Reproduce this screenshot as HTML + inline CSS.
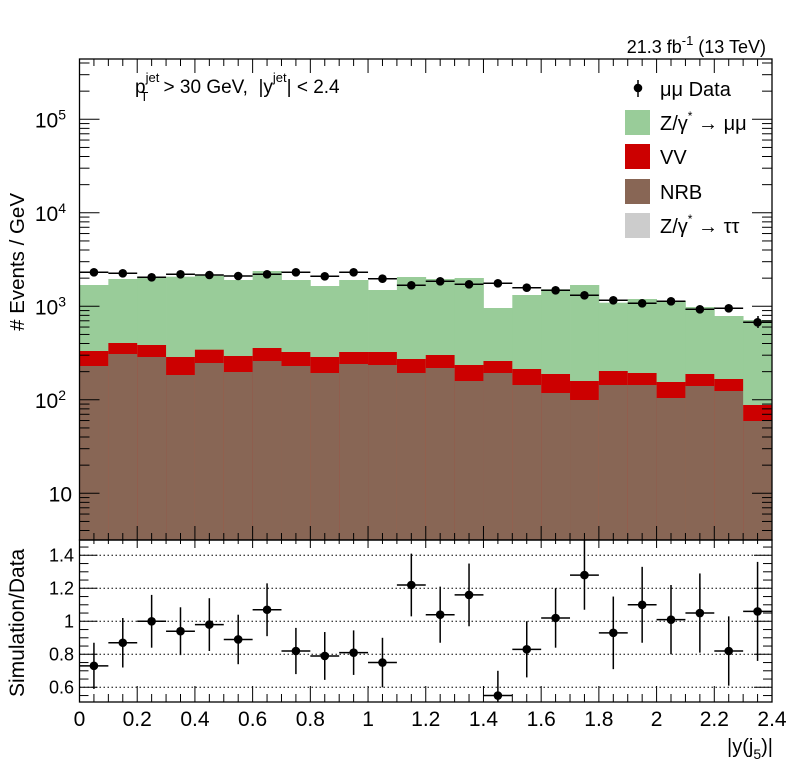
<!DOCTYPE html><html><head><meta charset="utf-8"><style>body{margin:0;background:#fff}svg{display:block}text{font-family:"Liberation Sans",sans-serif;white-space:pre}</style></head><body>
<svg id="s" width="796" height="772" xmlns="http://www.w3.org/2000/svg"></svg>
<script>
const L=79.5,R=772,T=59,B=540,RB=702,W=(R-L)/24;
const g=[285,279,277.3,276.7,275.7,280,271,280,286,280,290,277,279,278,308,295,289.3,285,302.7,299,301,307,316,320];
const r=[351,343,345,357,349.7,356,348,352,357,352,352,359,355,365,361,369,374,381,371,373,382,374,379,405];
const b=[366,354,357,375,363,372,361,366,373,364,365,373,368,381,373,385,393,400,385,385,398,386,391,421];
const d=[272.3,273.3,277.3,274.3,275,276,274.3,272.3,276.3,272.3,278.7,285.3,281.3,284.3,283.3,287.7,290.3,295.3,300.3,303.3,301.3,309.3,308.3,322.3];
const rv=[0.73,0.87,1.0,0.94,0.98,0.89,1.07,0.82,0.79,0.81,0.75,1.22,1.04,1.16,0.55,0.83,1.02,1.28,0.93,1.10,1.01,1.05,0.82,1.06];
const re=[0.14,0.15,0.16,0.145,0.16,0.15,0.16,0.14,0.145,0.135,0.15,0.19,0.17,0.19,0.15,0.17,0.18,0.21,0.22,0.23,0.21,0.24,0.21,0.30];
let s='';
for(let i=0;i<24;i++){const x=L+i*W;
s+=`<rect x="${x}" y="${g[i]}" width="${W+0.4}" height="${B-g[i]}" fill="#99cc99"/>`;
s+=`<rect x="${x}" y="${r[i]}" width="${W+0.4}" height="${B-r[i]}" fill="#cc0000"/>`;
s+=`<rect x="${x}" y="${b[i]}" width="${W+0.4}" height="${B-b[i]}" fill="#886655"/>`;}
for(let i=0;i<24;i++){const x=L+i*W,c=x+W/2;
s+=`<line x1="${x}" x2="${x+W}" y1="${d[i]}" y2="${d[i]}" stroke="#000" stroke-width="1.5"/><circle cx="${c}" cy="${d[i]}" r="4.3"/>`;}
s+=`<line x1="${R-14}" x2="${R-14}" y1="316" y2="328" stroke="#000" stroke-width="1.5"/>`;
const ry=v=>621.3-(v-1)*165;
[0.6,0.8,1.0,1.2,1.4].forEach(v=>{s+=`<line x1="${L}" x2="${R}" y1="${ry(v)}" y2="${ry(v)}" stroke="#000" stroke-dasharray="1.5,2.5"/>`;});
s+=`<clipPath id="c"><rect x="${L}" y="${B}" width="${R-L}" height="${RB-B}"/></clipPath><g clip-path="url(#c)">`;
for(let i=0;i<24;i++){const x=L+i*W,c=x+W/2,y=ry(rv[i]);
s+=`<line x1="${x}" x2="${x+W}" y1="${y}" y2="${y}" stroke="#000" stroke-width="1.5"/><line x1="${c}" x2="${c}" y1="${ry(rv[i]+re[i])}" y2="${ry(rv[i]-re[i])}" stroke="#000" stroke-width="1.5"/><circle cx="${c}" cy="${y}" r="4.3"/>`;}
s+='</g>';
s+=`<rect x="${L}" y="${T}" width="${R-L}" height="${B-T}" fill="none" stroke="#000" stroke-width="1.3"/><rect x="${L}" y="${B}" width="${R-L}" height="${RB-B}" fill="none" stroke="#000" stroke-width="1.3"/>`;
for(let k=0;k<=48;k++){const x=L+k*W/2,len=k%4==0?14:7;
s+=`<line x1="${x}" x2="${x}" y1="${B}" y2="${B-len}" stroke="#000"/><line x1="${x}" x2="${x}" y1="${T}" y2="${T+len}" stroke="#000"/>`;
const lr=k%4==0?16:8;s+=`<line x1="${x}" x2="${x}" y1="${RB}" y2="${RB-lr}" stroke="#000"/><line x1="${x}" x2="${x}" y1="${B}" y2="${B+lr/2}" stroke="#000"/>`;
if(k%4==0){const v=+(k*0.05).toFixed(1);s+=`<text x="${x}" y="726" font-size="21" text-anchor="middle">${v}</text>`;}}
const ly=v=>493.3-(Math.log10(v)-1)*93.5;
for(let e=0;e<=5;e++)for(let m=1;m<10;m++){const v=m*Math.pow(10,e),y=ly(v);if(y<T||y>B)continue;const len=m==1?20:10;
s+=`<line x1="${L}" x2="${L+len}" y1="${y}" y2="${y}" stroke="#000"/><line x1="${R}" x2="${R-len}" y1="${y}" y2="${y}" stroke="#000"/>`;}
[[10,'10'],[100,'10<tspan dy="-8" font-size="14">2</tspan>'],[1000,'10<tspan dy="-8" font-size="14">3</tspan>'],[1e4,'10<tspan dy="-8" font-size="14">4</tspan>'],[1e5,'10<tspan dy="-8" font-size="14">5</tspan>']].forEach(([v,t])=>{s+=`<text x="${v==10?72:66}" y="${ly(v)+8}" font-size="21" text-anchor="end">${t}</text>`;});
for(let k=0;k<=20;k++){const v=0.5+k*0.05,y=ry(v);if(y<B||y>RB)continue;const maj=Math.abs(v*10-Math.round(v*10))<0.01&&Math.round(v*10)%2==0;const len=maj?18:9;
s+=`<line x1="${L}" x2="${L+len}" y1="${y}" y2="${y}" stroke="#000"/><line x1="${R}" x2="${R-len}" y1="${y}" y2="${y}" stroke="#000"/>`;}
[[0.6,'0.6'],[0.8,'0.8'],[1,'1'],[1.2,'1.2'],[1.4,'1.4']].forEach(([v,t])=>{s+=`<text x="74" y="${ry(v)+6}" font-size="18" text-anchor="end">${t}</text>`;});
s+=`<text transform="translate(24,193) rotate(-90)" font-size="20.5" text-anchor="end"># Events / GeV</text>`;
s+=`<text transform="translate(24,697) rotate(-90)" font-size="21">Simulation/Data</text>`;
s+=`<text x="773" y="753" font-size="20" text-anchor="end">|y(j<tspan dy="6" font-size="14">5</tspan><tspan dy="-6">)|</tspan></text>`;
s+=`<text x="766" y="53" font-size="18" text-anchor="end">21.3 fb<tspan dy="-8" font-size="13">-1</tspan><tspan dy="8"> (13 TeV)</tspan></text>`;
s+=`<text x="135" y="93" font-size="19">p<tspan dx="0" dy="-11" font-size="13">jet</tspan><tspan dx="-19" dy="19" font-size="13">T</tspan><tspan dx="10" dy="-8"> &gt; 30 GeV,  |y</tspan><tspan dy="-11" font-size="13">jet</tspan><tspan dy="11">| &lt; 2.4</tspan></text>`;
s+=`<circle cx="638" cy="88" r="4.3"/><line x1="638" x2="638" y1="80" y2="97" stroke="#000" stroke-width="1.5"/><text x="660" y="96" font-size="20">μμ Data</text>`;
[['#99cc99',110,'Z/γ<tspan dy="-10" font-size="12">*</tspan><tspan dy="10"> → μμ</tspan>'],['#cc0000',144,'VV'],['#886655',179,'NRB'],['#cccccc',213,'Z/γ<tspan dy="-10" font-size="12">*</tspan><tspan dy="10"> → ττ</tspan>']].forEach(([c,y,t])=>{s+=`<rect x="625" y="${y}" width="25" height="25" fill="${c}"/><text x="660" y="${y+20}" font-size="20">${t}</text>`;});
document.getElementById('s').innerHTML=s;
</script></body></html>
